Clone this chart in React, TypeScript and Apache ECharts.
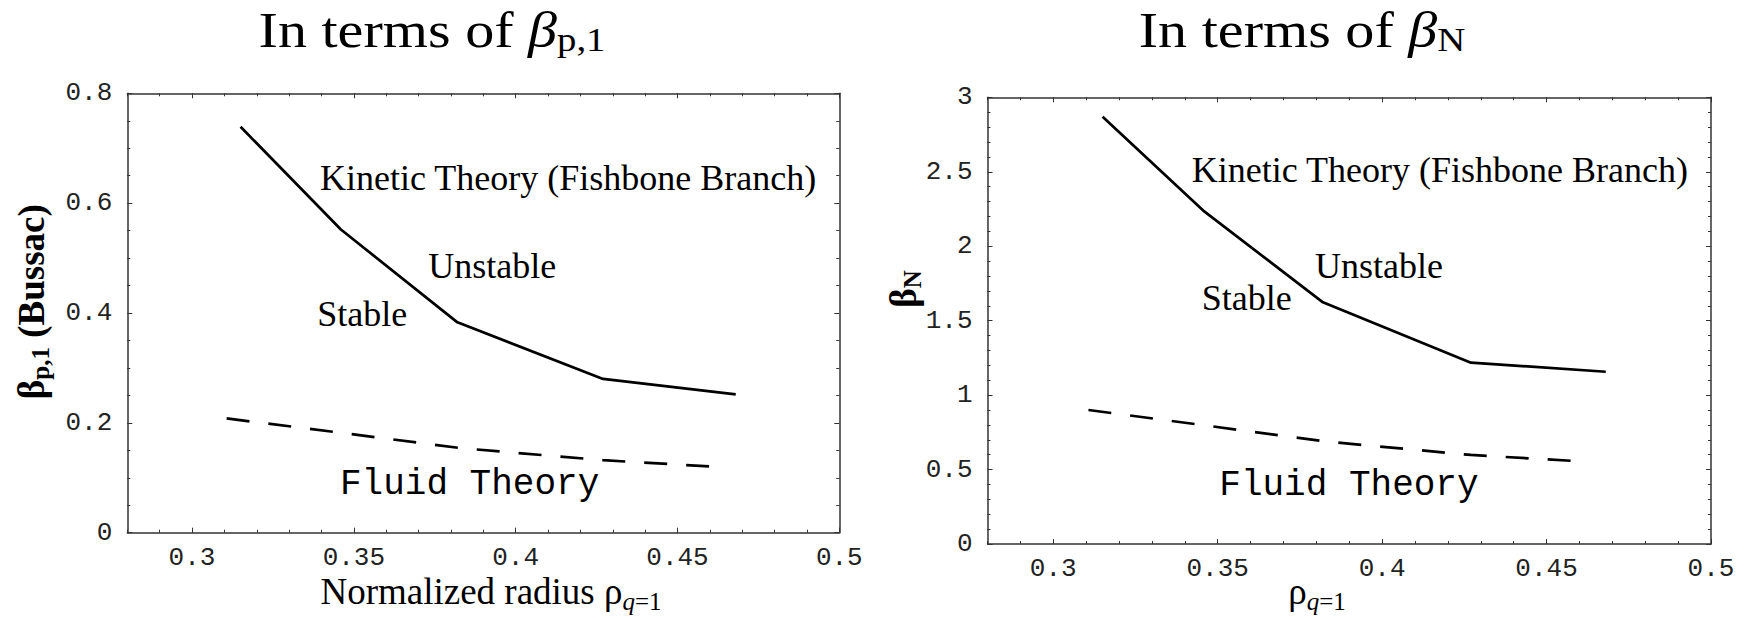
import React, { useEffect, useRef } from "react";
import * as echarts from "echarts";

// Radius of the q=1 surface (normalized) for each equilibrium
const kineticRho = [0.315, 0.346, 0.382, 0.427, 0.468];
const fluidRho = [0.3107, 0.346, 0.383, 0.427, 0.462];

// Fishbone (kinetic) and fluid thresholds in terms of beta_p,1 (Bussac)
const kineticBetaP = [0.739, 0.552, 0.383, 0.28, 0.252];
const fluidBetaP = [0.208, 0.182, 0.154, 0.132, 0.12];

// Same thresholds in terms of beta_N
const kineticBetaN = [2.87, 2.232, 1.623, 1.218, 1.157];
const fluidBetaN = [0.9, 0.797, 0.688, 0.598, 0.553];

// Axis ranges and ticks
const rhoRange = [0.28, 0.5];
const rhoMajorTicks = [0.3, 0.35, 0.4, 0.45, 0.5];
const rhoMinorStep = 0.01;
const betaPRange = [0, 0.8];
const betaPStep = 0.2;
const betaNRange = [0, 3];
const betaNStep = 0.5;

const SERIF = "'Liberation Serif', 'Times New Roman', serif";
const MONO = "'Liberation Mono', 'DejaVu Sans Mono', monospace";
const INK = "#000";
const FRAME = "#333";

// Plot frames (px)
const GL = { left: 127.3, top: 93.3, width: 712, height: 439.4 };
const GR = { left: 987.5, top: 97.3, width: 723.5, height: 446.7 };

const zip = (xs: number[], ys: number[]) => xs.map((x, i) => [x, ys[i]]);

// central-baseline to alphabetic-baseline offset (fraction of font size)
const SERIF_MID = 0.3375;
const MONO_MID = 0.2665;
const topToBase = (f: number) => f / 2 + SERIF_MID * f;
const subPad = (F: number, f: number, drop: number) => topToBase(F) + drop - topToBase(f);

function rhoAxes(g: number) {
  const base = {
    gridIndex: g,
    type: "value",
    min: rhoRange[0],
    max: rhoRange[1],
    splitLine: { show: false },
  };
  const line = { show: true, onZero: false, lineStyle: { color: FRAME, width: 1.5 } };
  const noLine = { show: false, onZero: false };
  const tick = { color: FRAME, width: 1 };
  return [
    {
      ...base,
      position: "bottom",
      axisLine: line,
      axisTick: { show: true, inside: true, length: 5, customValues: rhoMajorTicks, lineStyle: tick },
      axisLabel: {
        show: true,
        customValues: rhoMajorTicks,
        margin: 12,
        fontFamily: MONO,
        fontSize: 26,
        color: "#222",
      },
    },
    {
      ...base,
      position: "bottom",
      interval: rhoMinorStep,
      axisLine: noLine,
      axisTick: { show: true, inside: true, length: 3, lineStyle: tick },
      axisLabel: { show: false },
    },
    {
      ...base,
      position: "top",
      axisLine: line,
      axisTick: { show: true, inside: true, length: 5, customValues: rhoMajorTicks, lineStyle: tick },
      axisLabel: { show: false },
    },
    {
      ...base,
      position: "top",
      interval: rhoMinorStep,
      axisLine: noLine,
      axisTick: { show: true, inside: true, length: 3, lineStyle: tick },
      axisLabel: { show: false },
    },
  ];
}

function betaAxes(g: number, range: number[], step: number, minorSplit: number) {
  const tick = { color: FRAME, width: 1 };
  const base = {
    gridIndex: g,
    type: "value",
    min: range[0],
    max: range[1],
    interval: step,
    splitLine: { show: false },
    minorSplitLine: { show: false },
    axisLine: { show: true, onZero: false, lineStyle: { color: FRAME, width: 1.5 } },
    axisTick: { show: true, inside: true, length: 5, lineStyle: tick },
    minorTick: { show: true, splitNumber: minorSplit, length: 3, lineStyle: tick },
  };
  return [
    {
      ...base,
      position: "left",
      axisLabel: { show: true, margin: 15, fontFamily: MONO, fontSize: 26, color: "#222" },
    },
    { ...base, position: "right", axisLabel: { show: false } },
  ];
}

function plainText(text: string, x: number, baseline: number, size: number, family: string, mid: number) {
  return {
    type: "text",
    x,
    y: baseline - mid * size,
    silent: true,
    z: 10,
    style: {
      text,
      fontFamily: family,
      fontSize: size,
      fill: INK,
      align: "left",
      verticalAlign: "middle",
    },
  };
}

function buildOption() {
  const solid = { color: INK, width: 2.7, type: "solid" };
  const dashed = { color: INK, width: 2.7, type: [23, 19], cap: "butt" };
  const lineSeries = (xi: number, yi: number, data: number[][], style: any) => ({
    type: "line",
    xAxisIndex: xi,
    yAxisIndex: yi,
    data,
    symbol: "none",
    showSymbol: false,
    silent: true,
    lineStyle: style,
  });

  // Title
  const TF = 51;
  const TS = 34;
  const titleRich = {
    m: { fontFamily: SERIF, fontSize: TF, fill: INK, verticalAlign: "top" },
    b: { fontFamily: SERIF, fontSize: TF, fontStyle: "italic", fill: INK, verticalAlign: "top" },
    s: { fontFamily: SERIF, fontSize: TS, fill: INK, verticalAlign: "top", padding: [subPad(TF, TS, 5), 0, 0, 0] },
  };
  const titleBase = 46.7;
  const title = (text: string, cx: number) => ({
    type: "text",
    x: cx,
    y: titleBase - topToBase(TF),
    scaleX: 1.14,
    silent: true,
    style: { text, rich: titleRich, align: "center", verticalAlign: "top" },
  });

  // Axis names
  const YF = 37;
  const YS = 25;
  const yNameRich = {
    b: { fontFamily: SERIF, fontSize: YF, fontWeight: "bold", fill: INK, verticalAlign: "top" },
    s: {
      fontFamily: SERIF,
      fontSize: YS,
      fontWeight: "bold",
      fill: INK,
      verticalAlign: "top",
      padding: [subPad(YF, YS, 5), 0, 0, 0],
    },
  };
  const yName = (text: string, baseX: number, cy: number) => ({
    type: "text",
    x: baseX - topToBase(YF),
    y: cy,
    rotation: Math.PI / 2,
    silent: true,
    style: { text, rich: yNameRich, align: "center", verticalAlign: "top" },
  });
  const XF = 37;
  const XS = 25;
  const xNameRich = {
    m: { fontFamily: SERIF, fontSize: XF, fill: INK, verticalAlign: "top" },
    q: {
      fontFamily: SERIF,
      fontSize: XS,
      fontStyle: "italic",
      fill: INK,
      verticalAlign: "top",
      padding: [subPad(XF, XS, 6), 0, 0, 0],
    },
    s: { fontFamily: SERIF, fontSize: XS, fill: INK, verticalAlign: "top", padding: [subPad(XF, XS, 6), 0, 0, 0] },
  };
  const xNameBase = 604;
  const xName = (text: string, cx: number) => ({
    type: "text",
    x: cx,
    y: xNameBase - topToBase(XF),
    silent: true,
    style: { text, rich: xNameRich, align: "center", verticalAlign: "top" },
  });

  const LF = 36;
  const FF = 36;

  return {
    animation: false,
    backgroundColor: "#fff",
    grid: [
      { ...GL, containLabel: false },
      { ...GR, containLabel: false },
    ],
    xAxis: [...rhoAxes(0), ...rhoAxes(1)],
    yAxis: [...betaAxes(0, betaPRange, betaPStep, 4), ...betaAxes(1, betaNRange, betaNStep, 5)],
    series: [
      lineSeries(0, 0, zip(kineticRho, kineticBetaP), solid),
      lineSeries(0, 0, zip(fluidRho, fluidBetaP), dashed),
      lineSeries(4, 2, zip(kineticRho, kineticBetaN), solid),
      lineSeries(4, 2, zip(fluidRho, fluidBetaN), dashed),
    ],
    graphic: [
      title("{m|In terms of }{b|β}{s|p,1}", 432),
      title("{m|In terms of }{b|β}{s|N}", 1302),
      yName("{b|β}{s|p,1}{b| (Bussac)}", 44, 301.7),
      yName("{b|β}{s|N}", 916, 289),
      xName("{m|Normalized radius ρ}{q|q}{s|=1}", 491),
      xName("{m|ρ}{q|q}{s|=1}", 1317),

      plainText("Kinetic Theory (Fishbone Branch)", 320, 190, LF, SERIF, SERIF_MID),
      plainText("Unstable", 428.3, 277.7, LF, SERIF, SERIF_MID),
      plainText("Stable", 317.3, 326, LF, SERIF, SERIF_MID),
      plainText("Fluid Theory", 340, 494, FF, MONO, MONO_MID),

      plainText("Kinetic Theory (Fishbone Branch)", 1191.7, 181.7, LF, SERIF, SERIF_MID),
      plainText("Unstable", 1315, 278.3, LF, SERIF, SERIF_MID),
      plainText("Stable", 1201.7, 310, LF, SERIF, SERIF_MID),
      plainText("Fluid Theory", 1219.3, 495, FF, MONO, MONO_MID),
    ],
  };
}

export default function App() {
  const ref = useRef<HTMLDivElement>(null);
  useEffect(() => {
    if (!ref.current) return;
    const chart = echarts.init(ref.current, undefined, { renderer: "svg" });
    chart.setOption(buildOption() as any);
    return () => chart.dispose();
  }, []);
  return (
    <div
      ref={ref}
      style={{ position: "absolute", left: 0, top: 0, width: "1747px", height: "619px", background: "#fff" }}
    />
  );
}
